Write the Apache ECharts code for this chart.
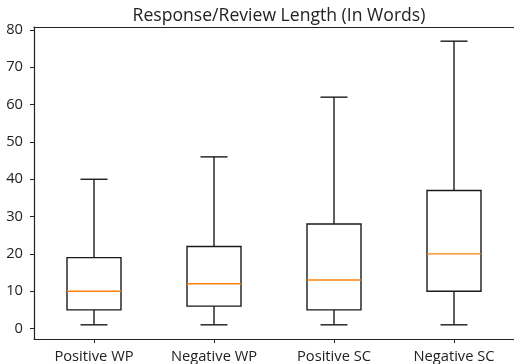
<!DOCTYPE html>
<html>
<head>
<meta charset="utf-8">
<script src="https://cdn.jsdelivr.net/npm/echarts@6/dist/echarts.min.js"></script>
<style>
  html, body { margin: 0; padding: 0; background: #fff; }
  #chart { width: 514px; height: 364px; }
</style>
</head>
<body>
<div id="chart"></div>
<script>
const categories = ['Positive WP', 'Negative WP', 'Positive SC', 'Negative SC'];
const whiskerLow = [1, 1, 1, 1];
const q1 = [5, 6, 5, 10];
const median = [10, 12, 13, 20];
const q3 = [19, 22, 28, 37];
const whiskerHigh = [40, 46, 62, 77];
const yTicks = [0, 10, 20, 30, 40, 50, 60, 70, 80];

const FONT = '"Open Sans", "Noto Sans", sans-serif';
const seriesData = categories.map((c, i) => [i, whiskerLow[i], q1[i], median[i], q3[i], whiskerHigh[i]]);

function renderItem(params, api) {
  const x = api.value(0);
  const pLow = api.coord([x, api.value(1)]);
  const pQ1 = api.coord([x, api.value(2)]);
  const pMed = api.coord([x, api.value(3)]);
  const pQ3 = api.coord([x, api.value(4)]);
  const pHigh = api.coord([x, api.value(5)]);
  const band = api.size([1, 0])[0];
  const hw = band * 0.225;
  const cw = band * 0.1125;
  const cx = pQ1[0];
  const stroke = { stroke: '#1a1a1a', lineWidth: 1.4, fill: null };
  return {
    type: 'group',
    children: [
      { type: 'line', shape: { x1: cx, y1: pLow[1], x2: cx, y2: pQ1[1] }, style: stroke },
      { type: 'line', shape: { x1: cx, y1: pQ3[1], x2: cx, y2: pHigh[1] }, style: stroke },
      { type: 'line', shape: { x1: cx - cw, y1: pLow[1], x2: cx + cw, y2: pLow[1] }, style: stroke },
      { type: 'line', shape: { x1: cx - cw, y1: pHigh[1], x2: cx + cw, y2: pHigh[1] }, style: stroke },
      { type: 'rect', shape: { x: cx - hw, y: pQ3[1], width: hw * 2, height: pQ1[1] - pQ3[1] }, style: { stroke: '#1a1a1a', lineWidth: 1.4, fill: 'none' } },
      { type: 'line', shape: { x1: cx - hw, y1: pMed[1], x2: cx + hw, y2: pMed[1] }, style: { stroke: '#ff7f0e', lineWidth: 1.4 } }
    ]
  };
}

const spine = { show: true, onZero: false, lineStyle: { color: '#222', width: 1.2 } };

const chart = echarts.init(document.getElementById('chart'), null, { renderer: 'canvas' });
chart.setOption({
  animation: false,
  backgroundColor: '#fff',
  title: {
    text: 'Response/Review Length (In Words)',
    left: 274,
    top: 2,
    textAlign: 'center',
    textStyle: { fontFamily: FONT, fontSize: 17.6, fontWeight: 'normal', color: '#222' }
  },
  grid: { left: 34, right: 0, top: 27, bottom: 25, show: false },
  xAxis: [{
    type: 'category',
    position: 'bottom',
    data: categories,
    boundaryGap: true,
    axisLine: spine,
    axisTick: { show: true, alignWithLabel: true, length: 4, lineStyle: { color: '#222', width: 1 } },
    axisLabel: { fontFamily: FONT, fontSize: 14.7, color: '#222', margin: 10 },
    splitLine: { show: false }
  }, {
    type: 'category',
    position: 'top',
    data: categories,
    axisLine: spine,
    axisTick: { show: false },
    axisLabel: { show: false },
    splitLine: { show: false }
  }],
  yAxis: {
    type: 'value',
    min: -2.8,
    max: 80.8,
    axisLine: spine,
    axisTick: { show: true, length: 4, customValues: yTicks, lineStyle: { color: '#222', width: 1 } },
    axisLabel: { fontFamily: FONT, fontSize: 14.7, color: '#222', margin: 11, customValues: yTicks },
    splitLine: { show: false }
  },
  series: [{
    type: 'custom',
    renderItem: renderItem,
    encode: { x: 0, y: [1, 2, 3, 4, 5] },
    data: seriesData
  }]
});
</script>
</body>
</html>
